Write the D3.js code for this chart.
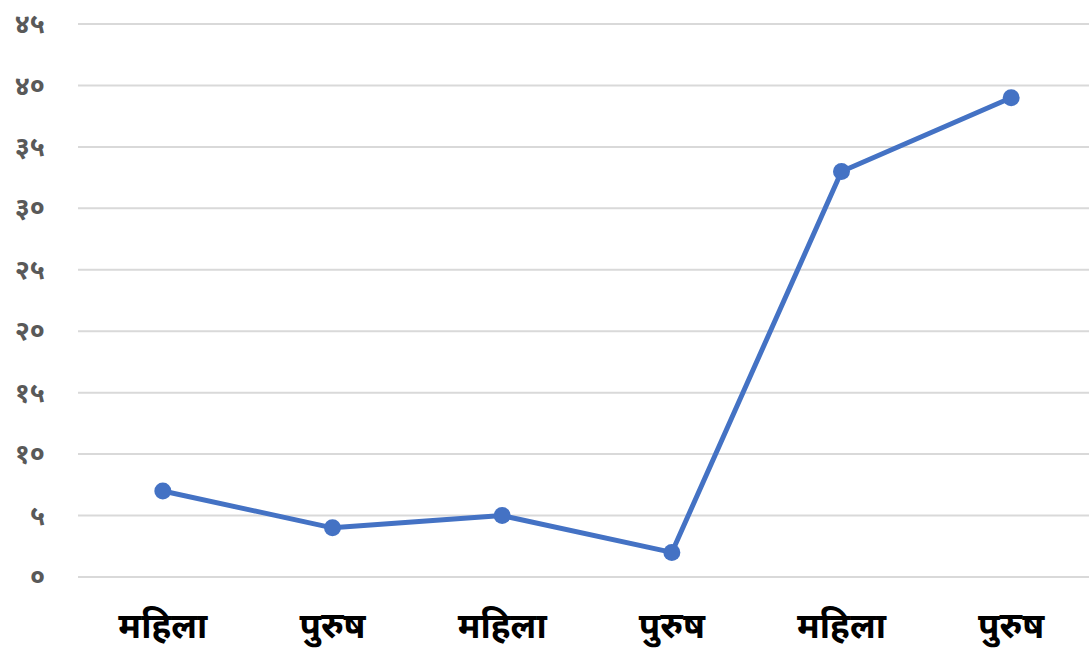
<!DOCTYPE html>
<html>
<head>
<meta charset="utf-8">
<script src="https://cdn.jsdelivr.net/npm/d3@7"></script>
<style>
  body { margin: 0; background: #fff; }
  svg { display: block; }
</style>
</head>
<body>
<div id="chart"></div>
<script>
const width = 1089;
const height = 654;
const margin = {top: 24, bottom: 77, left: 78, right: 0};

const categories = ["महिला", "पुरुष", "महिला", "पुरुष", "महिला", "पुरुष"];
const values = [7, 4, 5, 2, 33, 39];
const yTicks = [0, 5, 10, 15, 20, 25, 30, 35, 40, 45];

// nepali digits for the y labels
const devDigits = "०१२३४५६७८९";
const toDev = n => String(n).split("").map(c => devDigits[+c]).join("");

const svg = d3.select("#chart")
    .append("svg")
    .attr("width", width)
    .attr("height", height);

const x = d3.scaleBand()
    .domain(d3.range(categories.length))
    .range([margin.left, 1096])
    .padding(0);

const y = d3.scaleLinear()
    .domain([0, 45])
    .range([height - margin.bottom, margin.top]);

// grid
svg.append("g")
    .selectAll("line")
    .data(yTicks)
    .enter()
    .append("line")
        .attr("x1", margin.left)
        .attr("x2", width)
        .attr("y1", d => y(d))
        .attr("y2", d => y(d))
        .attr("stroke", "#d9d9d9")
        .attr("stroke-width", 2);

function yAxis(g){
    g.attr("transform", `translate(${margin.left}, 0)`)
        .call(d3.axisLeft(y).tickValues(yTicks).tickFormat(toDev).tickSize(0).tickPadding(33))
        .call(g => g.select(".domain").remove())
        .selectAll("text")
        .attr("font-family", "'Noto Sans', 'Noto Sans Devanagari', sans-serif")
        .attr("font-size", "27px")
        .attr("font-weight", "bold")
        .attr("fill", "#595959");
}

function xAxis(g){
    g.attr("transform", `translate(0, ${height - margin.bottom})`)
        .call(d3.axisBottom(x).tickFormat(i => categories[i]).tickSize(0).tickPadding(36))
        .call(g => g.select(".domain").remove())
        .selectAll("text")
        .attr("font-family", "'Noto Sans', 'Noto Sans Devanagari', sans-serif")
        .attr("font-size", "35px")
        .attr("font-weight", "bold")
        .attr("fill", "#000");
}

svg.append("g").call(yAxis);
svg.append("g").call(xAxis);

const cx = i => x(i) + x.bandwidth() / 2;

const line = d3.line()
    .x((d, i) => cx(i))
    .y(d => y(d));

svg.append("path")
    .datum(values)
    .attr("d", line)
    .attr("fill", "none")
    .attr("stroke", "#4472c4")
    .attr("stroke-width", 5)
    .attr("stroke-linejoin", "round");

svg.append("g")
    .selectAll("circle")
    .data(values)
    .enter()
    .append("circle")
        .attr("cx", (d, i) => cx(i))
        .attr("cy", d => y(d))
        .attr("r", 8.5)
        .attr("fill", "#4472c4");
</script>
</body>
</html>
